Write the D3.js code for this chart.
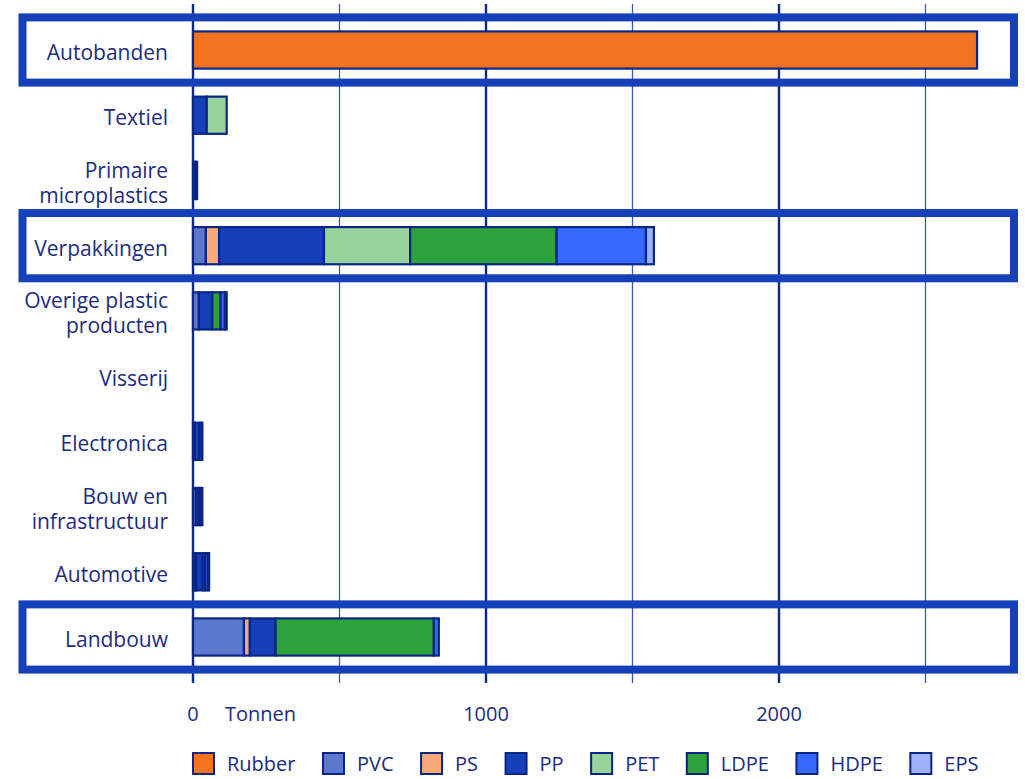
<!DOCTYPE html>
<html>
<head>
<meta charset="utf-8">
<script src="https://cdn.jsdelivr.net/npm/d3@7"></script>
<style>
  html, body { margin: 0; padding: 0; background: #fff; }
  svg text { font-family: 'Open Sans', 'Noto Sans', sans-serif; fill: #1c2c80; }
</style>
</head>
<body>
<div id="chart"></div>
<script>
// categories (top to bottom), \n = line break in label
const categories = ['Autobanden', 'Textiel', 'Primaire\nmicroplastics', 'Verpakkingen',
  'Overige plastic\nproducten', 'Visserij', 'Electronica', 'Bouw en\ninfrastructuur',
  'Automotive', 'Landbouw']
const highlighted = ['Autobanden', 'Verpakkingen', 'Landbouw']

const polymers = ['Rubber', 'PVC', 'PS', 'PP', 'PET', 'LDPE', 'HDPE', 'EPS']

// tonnes per category, same order as categories
const rubber = [2676, 0, 0, 0, 0, 0, 0, 0, 0, 0]
const pvc = [0, 0, 0, 44, 20, 0, 6, 10, 8, 174]
const ps = [0, 0, 0, 45, 0, 0, 0, 0, 3, 20]
const pp = [0, 47, 8, 358, 46, 0, 16, 10, 22, 88]
const pet = [0, 68, 0, 294, 0, 0, 0, 0, 0, 0]
const ldpe = [0, 0, 3, 500, 28, 0, 0, 6, 8, 540]
const hdpe = [0, 0, 3, 305, 15, 0, 8, 6, 10, 17]
const eps = [0, 0, 0, 27, 6, 0, 2, 0, 4, 0]

const tickValues = [0, 500, 1000, 1500, 2000, 2500]
const tickLabels = [0, 1000, 2000]
const unitLabel = 'Tonnen'

const colors = {
  Rubber: '#f37321', PVC: '#5b78cf', PS: '#f9aa78', PP: '#1540b8',
  PET: '#98d39c', LDPE: '#2ea23a', HDPE: '#3469fb', EPS: '#9db3fb'
}

const series = { Rubber: rubber, PVC: pvc, PS: ps, PP: pp, PET: pet, LDPE: ldpe, HDPE: hdpe, EPS: eps }
const table = categories.map((c, i) => {
  const row = { category: c }
  polymers.forEach(p => { row[p] = series[p][i] })
  return row
})

var width = 1025, height = 779

var svg = d3.select('#chart').append('svg')
  .attr('width', width)
  .attr('height', height)

var x = d3.scaleLinear().domain([0, 1000]).range([193, 486])
var y = d3.scaleBand().domain(categories).range([17.4, 669.6])
  .paddingInner(0.43).paddingOuter(0.215)

// gridlines
svg.append('g').selectAll('line')
  .data(tickValues)
  .enter().append('line')
  .attr('x1', d => x(d)).attr('x2', d => x(d))
  .attr('y1', 4).attr('y2', 683)
  .attr('stroke', d => d % 1000 === 0 ? '#0d2a8a' : '#3a58b0')
  .attr('stroke-width', d => d % 1000 === 0 ? 2.4 : 1.3)

// stacked bars
var stacked = d3.stack().keys(polymers)(table)

svg.append('g').selectAll('g')
  .data(stacked)
  .enter().append('g')
  .attr('fill', d => colors[d.key])
  .selectAll('rect')
  .data(d => d.filter(s => s[1] - s[0] > 0))
  .enter().append('rect')
  .attr('x', d => x(d[0]))
  .attr('width', d => x(d[1]) - x(d[0]))
  .attr('y', d => y(d.data.category))
  .attr('height', y.bandwidth())
  .attr('stroke', '#0a2583')
  .attr('stroke-width', 2.2)

// highlight boxes
svg.append('g').selectAll('rect')
  .data(highlighted)
  .enter().append('rect')
  .attr('x', 22.5)
  .attr('width', 1014 - 22.5)
  .attr('y', d => y(d) + y.bandwidth() / 2 - y.step() / 2)
  .attr('height', y.step())
  .attr('fill', 'none')
  .attr('stroke', '#1540b8')
  .attr('stroke-width', 8)

// category labels (one text per line)
var labelLines = []
categories.forEach(c => {
  var lines = c.split('\n')
  var cy = y(c) + y.bandwidth() / 2
  lines.forEach((l, i) => labelLines.push({ text: l, y: cy + 10 + (i - (lines.length - 1) / 2) * 25 }))
})
svg.append('g').selectAll('text')
  .data(labelLines)
  .enter().append('text')
  .attr('x', 168)
  .attr('y', d => d.y)
  .attr('text-anchor', 'end')
  .attr('font-size', 21)
  .text(d => d.text)

// tick labels
svg.append('g').selectAll('text')
  .data(tickLabels)
  .enter().append('text')
  .attr('x', d => x(d))
  .attr('y', 721)
  .attr('text-anchor', 'middle')
  .attr('font-size', 20)
  .text(d => d)

svg.append('text')
  .attr('x', 225).attr('y', 721)
  .attr('font-size', 20)
  .text(unitLabel)

// legend
var legend = svg.append('g')
var lx = 193
polymers.forEach(p => {
  legend.append('rect')
    .attr('x', lx).attr('y', 753)
    .attr('width', 21).attr('height', 21)
    .attr('fill', colors[p])
    .attr('stroke', '#0a2583')
    .attr('stroke-width', 2)
  var t = legend.append('text')
    .attr('x', lx + 34).attr('y', 771)
    .attr('font-size', 20)
    .text(p)
  lx += 34 + t.node().getComputedTextLength() + 27.5
})
</script>
</body>
</html>
